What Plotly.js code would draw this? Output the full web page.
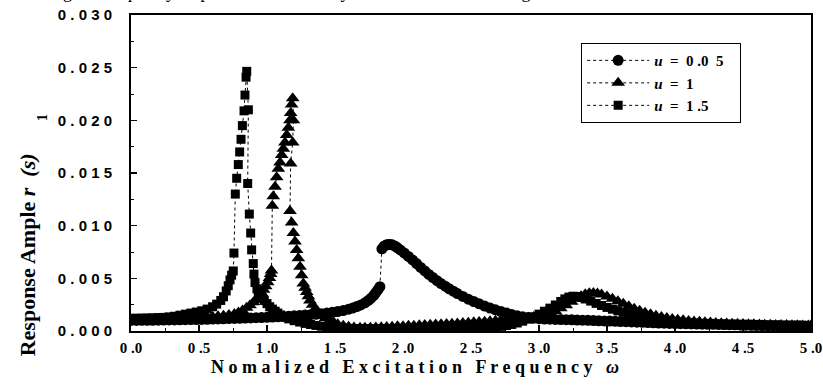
<!DOCTYPE html>
<html>
<head>
<meta charset="utf-8">
<script src="https://cdn.plot.ly/plotly-3.0.1.min.js"></script>
<style>html,body{margin:0;padding:0;background:#fff;}#chart{width:823px;height:385px;}</style>
</head>
<body>
<div id="chart"></div>
<script>
// ---- Data ----
const seriesNames = ["<i>u</i>&nbsp;&nbsp;=&nbsp;&nbsp;0&nbsp;.0&nbsp;&nbsp;5&nbsp;&nbsp;&nbsp;", "<i>u</i>&nbsp;&nbsp;=&nbsp;&nbsp;1", "<i>u</i>&nbsp;&nbsp;=&nbsp;&nbsp;1&nbsp;.5"];

// u = 0.05 (circles)
const xU005 = [0,0.04,0.08,0.12,0.16,0.2,0.24,0.28,0.32,0.36,0.4,0.44,0.48,0.52,0.56,0.6,0.64,0.68,0.72,0.76,0.8,0.84,0.88,0.92,0.96,1.0,1.04,1.08,1.12,1.16,1.2,1.24,1.28,1.32,1.36,1.4,1.44,1.48,1.52,1.56,1.6,
  1.63,1.66,1.69,1.72,1.745,1.765,1.785,1.8,1.815,1.83,
  1.845,1.86,1.875,1.89,1.905,1.92,1.94,1.96,1.98,
  2.01,2.04,2.07,2.1,2.13,2.16,2.19,2.22,2.25,2.28,2.31,2.34,2.37,2.4,
  2.44,2.48,2.52,2.56,2.6,2.64,2.68,2.72,2.76,2.8,2.84,2.88,2.92,2.96,3.0,
  3.04,3.08,3.12,3.16,3.2,3.24,3.28,3.32,3.36,3.4,3.44,3.48,3.52,3.56,3.6,3.64,3.68,3.72,3.76,3.8,
  3.84,3.88,3.92,3.96,4.0,4.04,4.08,4.12,4.16,4.2,4.24,4.28,4.32,4.36,4.4,4.44,4.48,4.52,4.56,4.6,
  4.64,4.68,4.72,4.76,4.8,4.84,4.88,4.92,4.96,5.0];
const yU005 = [0.00100,0.00100,0.00101,0.00101,0.00102,0.00103,0.00104,0.00105,0.00105,0.00106,0.00107,0.00108,0.00109,0.00110,0.00111,0.00113,0.00115,0.00116,0.00118,0.00119,0.00121,0.00123,0.00124,0.00126,0.00128,0.00130,0.00132,0.00135,0.00138,0.00141,0.00144,0.00147,0.00151,0.00155,0.00159,0.00164,0.00170,0.00177,0.00185,0.00194,0.00207,
  0.00218,0.00232,0.00247,0.00268,0.00290,0.00312,0.00338,0.00365,0.00390,0.00420,
  0.00780,0.00805,0.00816,0.00822,0.00822,0.00818,0.00806,0.00790,0.00770,
  0.00740,0.00708,0.00675,0.00640,0.00604,0.00570,0.00537,0.00507,0.00478,0.00450,0.00425,0.00400,0.00378,0.00355,
  0.00328,0.00302,0.00280,0.00258,0.00237,0.00218,0.00201,0.00185,0.00171,0.00156,0.00144,0.00135,0.00128,0.00122,0.00117,
  0.00114,0.00112,0.00110,0.00109,0.00107,0.00106,0.00104,0.00103,0.00101,0.00099,0.00097,0.00096,0.00094,0.00092,0.00090,0.00088,0.00086,0.00084,0.00082,0.00080,
  0.00078,0.00076,0.00074,0.00072,0.00071,0.00070,0.00068,0.00067,0.00066,0.00065,0.00064,0.00063,0.00062,0.00061,0.00060,0.00059,0.00058,0.00057,0.00056,0.00055,
  0.00054,0.00053,0.00053,0.00052,0.00051,0.00050,0.00050,0.00049,0.00048,0.00048];

// u = 1 (triangles)
const xU1 = [0,0.04,0.08,0.12,0.16,0.2,0.24,0.28,0.32,0.36,0.4,0.44,0.48,0.52,0.56,0.6,0.64,0.68,0.72,0.76,
  0.79,0.82,0.85,0.875,0.9,0.92,0.94,0.96,0.975,0.99,1.005,1.018,1.027,1.033,
  1.039,1.046,1.059,1.071,1.083,1.096,1.108,1.12,1.132,1.145,1.157,1.169,1.174,1.181,1.189,
  1.194,1.189,1.174,
  1.169,1.181,1.194,1.206,1.218,1.23,1.243,1.255,1.267,1.28,1.292,1.304,1.316,1.335,1.353,1.375,1.402,1.43,1.463,1.49,1.52,1.561,1.6,1.64,1.684,
  1.72,1.76,1.8,1.84,1.88,1.92,1.96,2.0,2.04,2.08,2.12,2.16,2.2,2.24,2.28,2.32,2.36,2.4,2.44,2.48,
  2.52,2.56,2.6,2.64,2.68,2.72,2.76,2.8,2.84,2.88,2.92,2.96,3.0,3.04,3.08,3.12,3.16,3.2,3.24,3.28,
  3.31,3.34,3.37,3.4,3.43,3.46,
  3.5,3.54,3.58,3.62,3.66,3.7,3.74,3.78,3.82,3.86,3.9,3.94,3.98,4.02,4.06,4.1,4.14,4.18,4.22,4.26,
  4.3,4.34,4.38,4.42,4.46,4.5,4.54,4.58,4.62,4.66,4.7,4.74,4.78,4.82,4.86,4.9,4.94,4.98,5.0];
const yU1 = [0.00110,0.00110,0.00111,0.00111,0.00112,0.00113,0.00114,0.00115,0.00117,0.00118,0.00120,0.00122,0.00125,0.00128,0.00131,0.00135,0.00140,0.00145,0.00152,0.00162,
  0.00175,0.00195,0.00220,0.00245,0.00272,0.00298,0.00325,0.00360,0.00392,0.00425,0.00462,0.00502,0.00540,0.00575,
  0.0119,0.0128,0.0137,0.0146,0.0154,0.0160,0.0167,0.0173,0.0179,0.0186,0.0193,0.0200,0.0207,0.0215,0.0221,
  0.0200,0.0179,0.0159,
  0.0114,0.0103,0.0093,0.0085,0.0077,0.0069,0.0061,0.0053,0.0045,0.0041,0.0037,0.0033,0.0029,0.0025,0.0021,0.0018,0.0015,0.0012,0.0010,0.00082,0.00065,0.00050,0.00040,0.00034,0.00031,
  0.00031,0.00032,0.00034,0.00036,0.00039,0.00041,0.00044,0.00046,0.00049,0.00051,0.00054,0.00056,0.00059,0.00061,0.00064,0.00066,0.00069,0.00072,0.00075,0.00079,
  0.00082,0.00085,0.00089,0.00093,0.00097,0.00102,0.00107,0.00112,0.00116,0.00120,0.00125,0.00132,0.00140,0.00152,0.00168,0.00190,0.00215,0.00245,0.00278,0.00308,
  0.00330,0.00348,0.00358,0.00360,0.00356,0.00346,
  0.00328,0.00306,0.00282,0.00258,0.00234,0.00212,0.00192,0.00174,0.00158,0.00145,0.00133,0.00123,0.00114,0.00107,0.00101,0.00096,0.00091,0.00087,0.00083,0.00080,
  0.00077,0.00074,0.00072,0.00070,0.00068,0.00066,0.00064,0.00063,0.00061,0.00060,0.00059,0.00058,0.00057,0.00056,0.00055,0.00054,0.00053,0.00052,0.00052];

// u = 1.5 (squares)
const xU15 = [0,0.04,0.08,0.12,0.16,0.2,0.24,0.28,0.32,0.36,0.4,0.44,0.48,0.52,0.56,
  0.6,0.63,0.66,0.68,0.7,0.715,0.728,0.74,0.752,0.757,
  0.767,0.777,0.789,0.799,0.809,0.819,0.831,0.838,0.846,0.851,
  0.863,0.858,0.870,0.880,0.887,0.899,0.904,0.912,0.926,
  0.936,0.95,0.965,0.98,1.0,1.02,1.04,1.06,1.08,1.1,1.13,1.16,1.2,1.24,1.28,1.32,1.36,1.4,1.44,1.48,1.52,1.56,1.6,
  1.64,1.68,1.72,1.76,1.8,1.84,1.88,1.92,1.96,2.0,2.04,2.08,2.12,2.16,2.2,2.24,2.28,2.32,2.36,2.4,
  2.44,2.48,2.52,2.56,2.6,2.64,2.68,2.72,2.76,2.8,2.84,2.88,2.92,2.96,3.0,3.04,3.08,3.12,3.16,
  3.19,3.22,3.25,3.28,3.31,3.34,
  3.38,3.42,3.46,3.5,3.54,3.58,3.62,3.66,3.7,3.74,3.78,3.82,3.86,3.9,3.94,3.98,4.02,4.06,4.1,4.14,
  4.18,4.22,4.26,4.3,4.34,4.38,4.42,4.46,4.5,4.54,4.58,4.62,4.66,4.7,4.74,4.78,4.82,4.86,4.9,4.94,4.98,5.0];
const yU15 = [0.00120,0.00121,0.00122,0.00123,0.00125,0.00127,0.00129,0.00134,0.00140,0.00150,0.00160,0.00170,0.00180,0.00192,0.00208,
  0.00230,0.00255,0.00290,0.00325,0.00380,0.00430,0.00485,0.00530,0.00570,0.00740,
  0.0130,0.0145,0.0158,0.0170,0.0182,0.0195,0.0209,0.0224,0.0241,0.02465,
  0.0210,0.0140,0.0111,0.0093,0.0077,0.0064,0.0054,0.0046,0.0040,
  0.0037,0.0034,0.0031,0.0029,0.0026,0.0023,0.00208,0.00188,0.00170,0.00152,0.00132,0.00115,0.00098,0.00085,0.00072,0.00062,0.00053,0.00045,0.00039,0.00034,0.00030,0.00027,0.00025,
  0.00024,0.00023,0.00022,0.00021,0.00020,0.00020,0.00020,0.00019,0.00019,0.00019,0.00019,0.00019,0.00020,0.00020,0.00020,0.00021,0.00021,0.00022,0.00022,0.00023,
  0.00024,0.00025,0.00027,0.00029,0.00031,0.00034,0.00038,0.00044,0.00052,0.00062,0.00076,0.00093,0.00112,0.00135,0.00160,0.00188,0.00217,0.00247,0.00280,
  0.00305,0.00322,0.00330,0.00328,0.00318,0.00304,
  0.00284,0.00262,0.00242,0.00224,0.00207,0.00191,0.00177,0.00164,0.00152,0.00141,0.00131,0.00122,0.00113,0.00106,0.00099,0.00093,0.00087,0.00082,0.00078,0.00074,
  0.00070,0.00067,0.00064,0.00061,0.00059,0.00057,0.00055,0.00053,0.00051,0.00050,0.00048,0.00047,0.00046,0.00045,0.00044,0.00043,0.00042,0.00041,0.00041,0.00040,0.00039,0.00039];

const xTickVals = [0,0.5,1,1.5,2,2.5,3,3.5,4,4.5,5];
const xTickText = ["0 .0","0 .5","1 .0","1 .5","2 .0","2 .5","3 .0","3 .5","4 .0","4 .5","5 .0"];
const yTickVals = [0,0.005,0.01,0.015,0.02,0.025,0.03];
const yTickText = ["0 . 0 0 0","0 . 0 0 5","0 . 0 1 0","0 . 0 1 5","0 . 0 2 0","0 . 0 2 5","0 . 0 3 0"];

// ---- Traces ----
const lineStyle = {color:'#000', width:1, dash:'dot'};
const traces = [
  {x:xU005, y:yU005, name:seriesNames[0], mode:'lines+markers', line:lineStyle,
   marker:{symbol:'circle', size:11, color:'#000'}},
  {x:xU1, y:yU1, name:seriesNames[1], mode:'lines+markers', line:lineStyle,
   marker:{symbol:'triangle-up', size:12, color:'#000'}},
  {x:xU15, y:yU15, name:seriesNames[2], mode:'lines+markers', line:lineStyle,
   marker:{symbol:'square', size:9, color:'#000'}}
];

const serif = '"Liberation Serif", "Times New Roman", serif';
const sans = '"Liberation Sans", Arial, sans-serif';

const layout = {
  width:823, height:385,
  margin:{l:131, r:12, t:15, b:54},
  paper_bgcolor:'#fff', plot_bgcolor:'#fff',
  showlegend:true,
  legend:{x:0.662, y:0.911, xanchor:'left', yanchor:'top',
    bgcolor:'#fff', bordercolor:'#000', borderwidth:1,
    font:{family:serif, size:15, color:'#000', weight:'bold'},
    tracegroupgap:0, itemwidth:62},
  xaxis:{range:[0,5], tickvals:xTickVals, ticktext:xTickText,
    showline:true, linecolor:'#000', linewidth:2, mirror:true,
    ticks:'inside', ticklen:6, tickwidth:1.5, tickcolor:'#000',
    minor:{ticks:'inside', ticklen:3, tickwidth:1, tickcolor:'#000', dtick:0.25},
    showgrid:false, zeroline:false,
    tickfont:{family:serif, size:15, color:'#000', weight:'bold'},
    ticklabelstandoff:2},
  yaxis:{range:[0,0.030], tickvals:yTickVals, ticktext:yTickText,
    showline:true, linecolor:'#000', linewidth:2, mirror:true,
    ticks:'inside', ticklen:6, tickwidth:1.5, tickcolor:'#000',
    minor:{ticks:'inside', ticklen:3, tickwidth:1, tickcolor:'#000', dtick:0.0025},
    showgrid:false, zeroline:false,
    tickfont:{family:sans, size:15, color:'#000', weight:'bold'},
    ticklabelstandoff:14},
  annotations:[
    {xref:'paper', yref:'paper', x:0.4176, y:-0.114, xanchor:'center', yanchor:'middle',
     showarrow:false, text:'N o m a l i z e d&nbsp;&nbsp; E x c i t a t i o n&nbsp;&nbsp; F r e q u e n c y&nbsp;&nbsp; <i>ω</i>',
     font:{family:serif, size:18, color:'#000', weight:'bold'}},
    {xref:'paper', yref:'paper', x:-0.153, y:-0.085, xanchor:'center', yanchor:'bottom', textangle:-90,
     showarrow:false, text:'Response Ample <i>r</i>  <i>(s)</i>',
     font:{family:serif, size:22, color:'#000', weight:'bold'}},
    {xref:'paper', yref:'paper', x:-0.131, y:0.677, xanchor:'center', yanchor:'middle', textangle:-90,
     showarrow:false, text:'1',
     font:{family:serif, size:14, color:'#000', weight:'bold'}},
    {xref:'paper', yref:'paper', x:-0.125, y:1.036, xanchor:'left', yanchor:'bottom',
     showarrow:false, text:'Fig. 6  Frequency response of the main system under different magnitudes of the mass ratio u',
     font:{family:serif, size:18, color:'#000'}}
  ]
};

Plotly.newPlot('chart', traces, layout, {staticPlot:true, displayModeBar:false});
</script>
</body>
</html>
